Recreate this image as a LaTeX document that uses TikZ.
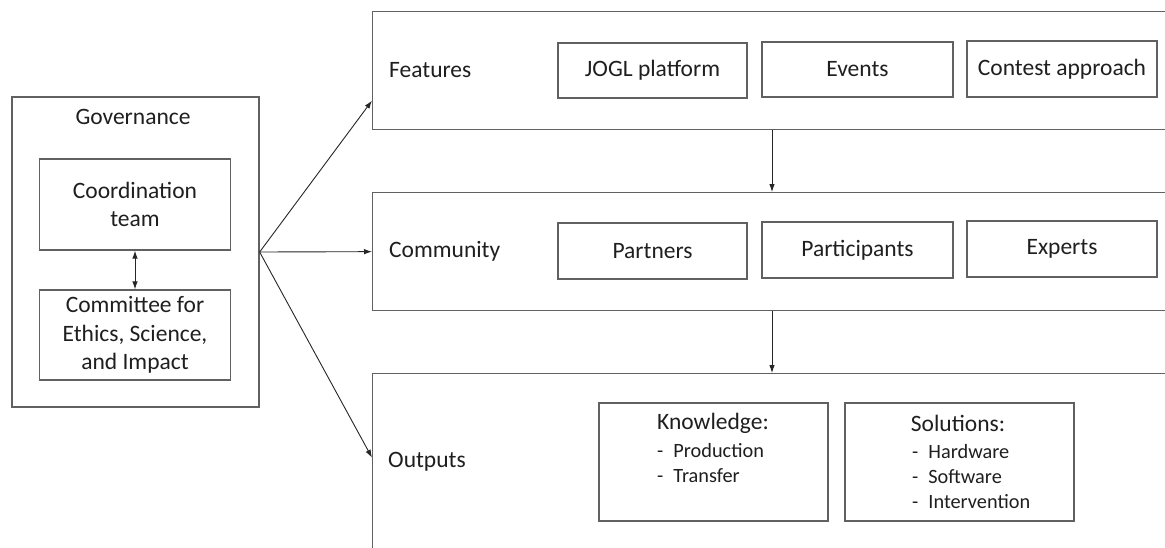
\documentclass[tikz,border=0pt]{standalone}
\usepackage{fontspec}
\setmainfont{Carlito}
\usetikzlibrary{arrows.meta,calc}
\begin{document}
\begin{tikzpicture}[x=1pt,y=-1pt,
  box/.style={draw=black!62, line width=1.3pt, inner sep=0pt, align=center, text=black!88},
  lbl/.style={inner sep=0pt, anchor=west, text=black!88},
  txt/.style={inner sep=0pt, text=black!88},
  lst/.style={inner sep=0pt, anchor=west, text=black!88, font=\fontsize{20.3}{25}\selectfont},
  conn/.style={draw=black!85, line width=0.9pt, -{Latex[length=8pt,width=5.5pt]}},
  dbl/.style={draw=black!85, line width=0.9pt, {Latex[length=8pt,width=5.5pt]}-{Latex[length=8pt,width=5.5pt]}},
  font=\fontsize{23.5}{28.5}\selectfont]
\clip (0,0) rectangle (1165,547);
\fill[white] (0,0) rectangle (1165,547);

% Governance
\node[box, minimum width=247pt, minimum height=310pt] (gov) at (135.5,252) {};
\node[txt] (govlbl) at (133,117) {Governance};
\node[box, minimum width=191pt, minimum height=91pt] (coord) at (135,204.5) {Coordination\\team};
\node[box, minimum width=191pt, minimum height=90pt] (cesi) at (135,335) {Committee for\\Ethics, Science,\\and Impact};
\draw[dbl] (coord.south) -- (cesi.north);

% Features
\node[box, anchor=north west, minimum width=900pt, minimum height=118pt] (feat) at (372,11) {};
\node[lbl] (featlbl) at (389,70) {Features};
\node[box, minimum width=189pt, minimum height=55pt] (jogl) at (652.5,70.5) {JOGL platform};
\node[box, minimum width=191pt, minimum height=55pt] (events) at (857.5,69.5) {Events};
\node[box, minimum width=190pt, minimum height=56pt] (contest) at (1062,69) {Contest approach};

% Community
\node[box, anchor=north west, minimum width=900pt, minimum height=118pt] (comm) at (372,192) {};
\node[lbl] (commlbl) at (389,251) {Community};
\node[box, minimum width=189pt, minimum height=56pt] (partners) at (652.5,251) {Partners};
\node[box, minimum width=191pt, minimum height=56pt] (participants) at (857.5,250) {Participants};
\node[box, minimum width=190pt, minimum height=56pt] (experts) at (1062,249) {Experts};

% Outputs
\node[box, anchor=north west, minimum width=900pt, minimum height=250pt] (outp) at (372,373) {};
\node[lbl] (outlbl) at (388,462) {Outputs};
\node[box, minimum width=229pt, minimum height=118pt] (know) at (713.5,462) {};
\node[txt] (knowt) at (713,423) {Knowledge:};
\node[lst] (knowl) at (657,464.5) {\begin{tabular}{@{}l@{\hspace{10pt}}l@{}}- & Production\\- & Transfer\end{tabular}};
\node[box, minimum width=229pt, minimum height=118pt] (sol) at (959.5,462) {};
\node[txt] (solt) at (958,423) {Solutions:};
\node[lst] (soll) at (912,478.5) {\begin{tabular}{@{}l@{\hspace{10pt}}l@{}}- & Hardware\\- & Software\\- & Intervention\end{tabular}};

% Connectors
\coordinate (vx) at (772,0);
\draw[conn] (feat.south -| vx) -- (comm.north -| vx);
\draw[conn] (comm.south -| vx) -- (outp.north -| vx);
\draw[conn] (gov.east) -- ([yshift=-30pt]feat.west);
\draw[conn] (gov.east) -- (comm.west);
\draw[conn] (gov.east) -- ([yshift=41pt]outp.west);
\end{tikzpicture}
\end{document}
